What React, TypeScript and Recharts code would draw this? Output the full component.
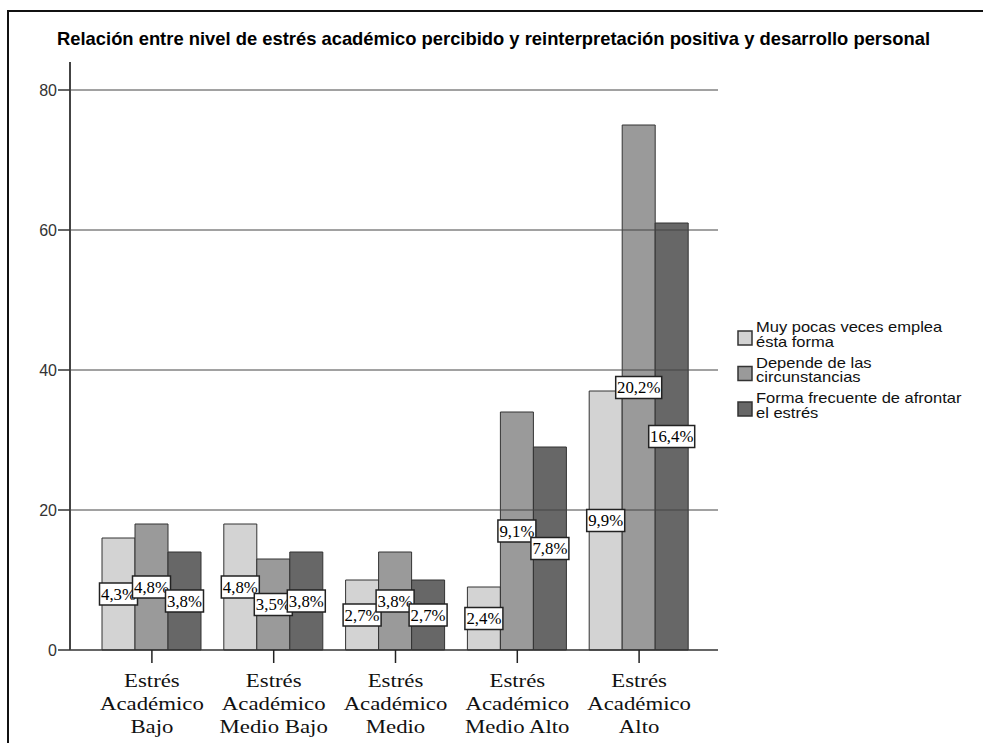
import React from "react";
import {
  Bar,
  BarChart,
  LabelList,
  Legend,
  ReferenceLine,
  XAxis,
  YAxis,
} from "recharts";

// category labels (one per group on the x axis)
const categories = [
  "Estrés Académico Bajo",
  "Estrés Académico Medio Bajo",
  "Estrés Académico Medio",
  "Estrés Académico Medio Alto",
  "Estrés Académico Alto",
];

// counts per series
const muyPocas = [16, 18, 10, 9, 37];
const depende = [18, 13, 14, 34, 75];
const frecuente = [14, 14, 10, 29, 61];

// percentage labels printed on the bars (of total)
const pctMuyPocas = [4.3, 4.8, 2.7, 2.4, 9.9];
const pctDepende = [4.8, 3.5, 3.8, 9.1, 20.2];
const pctFrecuente = [3.8, 3.8, 2.7, 7.8, 16.4];

const yTicks = [0, 20, 40, 60, 80];

const seriesNames = [
  ["Muy pocas veces emplea", "ésta forma"],
  ["Depende de las", "circunstancias"],
  ["Forma frecuente de afrontar", "el estrés"],
];

const COLORS = ["#d3d3d3", "#9a9a9a", "#676767"];

const TITLE =
  "Relación entre nivel de estrés académico percibido y reinterpretación positiva y desarrollo personal";

const data = categories.map((c, i) => ({
  name: c,
  muyPocas: muyPocas[i],
  depende: depende[i],
  frecuente: frecuente[i],
}));

function CategoryTick(props: any) {
  const { x, y, payload } = props;
  const words = String(payload.value).split(" ");
  const lines = [words[0], words[1], words.slice(2).join(" ")];
  return (
    <g transform={`translate(${x},${y})`}>
      {lines.map((l, i) => (
        <text
          key={i}
          transform={`translate(0,${22 + i * 23}) scale(1.2,1)`}
          textAnchor="middle"
          fontFamily="'Liberation Serif', 'Times New Roman', serif"
          fontSize={19}
          fill="#111"
        >
          {l}
        </text>
      ))}
    </g>
  );
}

const pctLabel = (pcts: number[]) => (props: any) => {
  const { x, y, width, height, index } = props;
  const text = pcts[index].toFixed(1).replace(".", ",") + "%";
  const w = text.length * 8 + 6;
  const cx = x + width / 2;
  const cy = y + height / 2;
  return (
    <g>
      <rect
        x={cx - w / 2}
        y={cy - 11}
        width={w}
        height={22}
        fill="#fff"
        stroke="#222"
        strokeWidth={1.5}
      />
      <text
        transform={`translate(${cx},${cy + 5.5}) scale(1.05,1)`}
        textAnchor="middle"
        fontFamily="'Liberation Serif', 'Times New Roman', serif"
        fontSize={16}
        fill="#000"
      >
        {text}
      </text>
    </g>
  );
};

function SeriesLegend() {
  return (
    <svg width={245} height={115}>
      {seriesNames.map((lines, i) => {
        const top = 21 + i * 35.5;
        return (
          <g key={i}>
            <rect
              x={8}
              y={top}
              width={14}
              height={14}
              fill={COLORS[i]}
              stroke="#333"
              strokeWidth={1.5}
            />
            {lines.map((l, j) => (
              <text
                key={j}
                transform={`translate(26,${top + 1 + j * 14.5}) scale(1.18,1)`}
                fontFamily="'Liberation Sans', Arial, sans-serif"
                fontSize={14}
                fill="#111"
              >
                {l}
              </text>
            ))}
          </g>
        );
      })}
    </svg>
  );
}

export default function App() {
  return (
    <div
      style={{
        position: "absolute",
        left: 0,
        top: 0,
        width: 983,
        height: 743,
        background: "#fff",
        overflow: "hidden",
      }}
    >
      <div
        style={{
          position: "absolute",
          left: 7,
          top: 10,
          width: 990,
          height: 800,
          borderLeft: "2px solid #111",
          borderTop: "2px solid #111",
        }}
      />
      <svg
        width={983}
        height={60}
        style={{ position: "absolute", left: 0, top: 0 }}
      >
        <text
          x={57}
          y={45}
          textLength={873}
          lengthAdjust="spacingAndGlyphs"
          fontFamily="'Liberation Sans', Arial, sans-serif"
          fontWeight="bold"
          fontSize={18.5}
          fill="#000"
        >
          {TITLE}
        </text>
      </svg>
      <div style={{ position: "absolute", left: 0, top: 0 }}>
        <BarChart
          width={983}
          height={743}
          data={data}
          margin={{ top: 62, right: 265, bottom: 0, left: 0 }}
          barCategoryGap={11}
          barGap={0}
        >
          <XAxis
            dataKey="name"
            height={93}
            padding={{ left: 21, right: 18 }}
            tickSize={13}
            tickMargin={2}
            axisLine={{ stroke: "#333", strokeWidth: 1.5 }}
            tickLine={{ stroke: "#222", strokeWidth: 1.5 }}
            tick={<CategoryTick />}
            interval={0}
          />
          <YAxis
            width={70}
            domain={[0, 84]}
            ticks={yTicks}
            tickSize={12}
            tickMargin={1}
            axisLine={{ stroke: "#444", strokeWidth: 2 }}
            tickLine={{ stroke: "#333", strokeWidth: 1.5 }}
            tick={{
              fill: "#333",
              fontSize: 16,
              fontFamily: "'Liberation Sans', Arial, sans-serif",
            }}
          />
          {yTicks.slice(1).map((t) => (
            <ReferenceLine key={t} y={t} stroke="#444" strokeWidth={1} />
          ))}
          <Legend
            layout="horizontal"
            verticalAlign="middle"
            align="center"
            content={() => <SeriesLegend />}
            wrapperStyle={{
              position: "absolute",
              left: 730,
              top: 310,
              width: 245,
              height: 115,
            }}
          />
          <Bar
            dataKey="muyPocas"
            name={seriesNames[0].join(" ")}
            fill={COLORS[0]}
            stroke="#333"
            strokeWidth={1}
            isAnimationActive={false}
          >
            <LabelList content={pctLabel(pctMuyPocas)} />
          </Bar>
          <Bar
            dataKey="depende"
            name={seriesNames[1].join(" ")}
            fill={COLORS[1]}
            stroke="#333"
            strokeWidth={1}
            isAnimationActive={false}
          >
            <LabelList content={pctLabel(pctDepende)} />
          </Bar>
          <Bar
            dataKey="frecuente"
            name={seriesNames[2].join(" ")}
            fill={COLORS[2]}
            stroke="#333"
            strokeWidth={1}
            isAnimationActive={false}
          >
            <LabelList content={pctLabel(pctFrecuente)} />
          </Bar>
        </BarChart>
      </div>
    </div>
  );
}
